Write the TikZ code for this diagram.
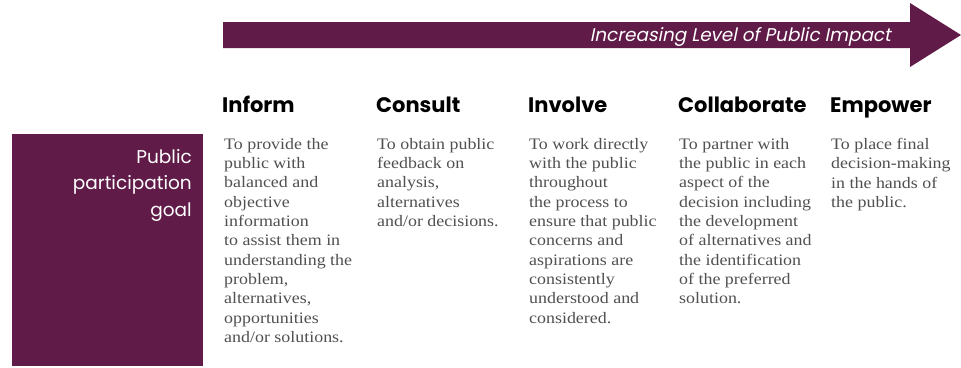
\documentclass[tikz,border=0pt]{standalone}
\usepackage{fontspec}
\setmainfont{Liberation Serif}[FakeStretch=1.12]
\newfontfamily\headfont{Poppins}
\newfontfamily\slantfont{Poppins}[FakeSlant=0.2]
\definecolor{plum}{HTML}{601B48}
\definecolor{bodygrey}{HTML}{505050}
\begin{document}
\begin{tikzpicture}[x=1pt,y=1pt,
  head/.style={anchor=base west,inner sep=0pt,font=\headfont\bfseries\fontsize{21}{23}\selectfont,text=black},
  body/.style={anchor=north west,inner sep=0pt,align=left,text=bodygrey,font=\fontsize{16}{19.3}\selectfont}]
\useasboundingbox (0,0) rectangle (961,-367);
% arrow
\fill[plum] (223,-22) -- (910,-22) -- (910,-3) -- (961,-35) -- (910,-67) -- (910,-48) -- (223,-48) -- cycle;
\node[anchor=base east,inner sep=0pt,text=white,font=\slantfont\fontsize{18.4}{20}\selectfont] (arrowtext) at (891,-41) {Increasing Level of Public Impact};
% goal box
\fill[plum] (12,-134) rectangle (203,-366);
\node[anchor=north east,inner sep=0pt,align=right,text=white,font=\headfont\fontsize{18.5}{26.5}\selectfont] (goal) at (192,-149) {Public\\participation\\goal};
% headings
\node[head] (h1) at (222,-112) {Inform};
\node[head] (h2) at (376,-112) {Consult};
\node[head] (h3) at (528,-112) {Involve};
\node[head] (h4) at (678,-112) {Collaborate};
\node[head] (h5) at (830,-112) {Empower};
% bodies
\node[body] (b1) at (224,-138) {To provide the\\public with\\balanced and\\objective\\information\\to assist them in\\understanding the\\problem,\\alternatives,\\opportunities\\and/or solutions.};
\node[body] (b2) at (377,-138) {To obtain public\\feedback on\\analysis,\\alternatives\\and/or decisions.};
\node[body] (b3) at (529,-138) {To work directly\\with the public\\throughout\\the process to\\ensure that public\\concerns and\\aspirations are\\consistently\\understood and\\considered.};
\node[body] (b4) at (679,-138) {To partner with\\the public in each\\aspect of the\\decision including\\the development\\of alternatives and\\the identification\\of the preferred\\solution.};
\node[body] (b5) at (831,-138) {To place final\\decision-making\\in the hands of\\the public.};
\end{tikzpicture}
\end{document}
